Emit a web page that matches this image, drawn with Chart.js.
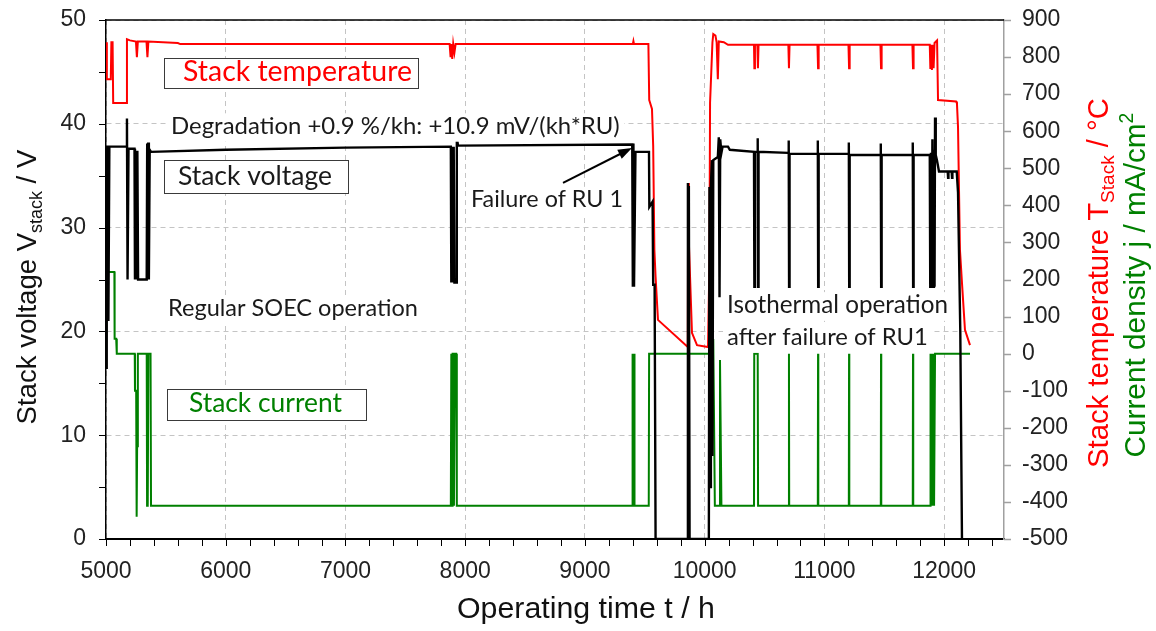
<!DOCTYPE html>
<html>
<head>
<meta charset="utf-8">
<script src="https://cdn.jsdelivr.net/npm/chart.js@4.4.0/dist/chart.umd.min.js"></script>
<style>
  html, body { margin: 0; padding: 0; background: #fff; }
  #wrap { width: 1156px; height: 631px; }
</style>
</head>
<body>
<div id="wrap"><canvas id="chart" width="1156" height="631"></canvas></div>
<script>
// values: operating time (h) against value
const tempTime = [5000,5006,5008,5040,5045,5055,5060,5170,5175,5200,5250,5258,5266,5338,5346,5354,5600,5620,7870,7878,7885,7892,7900,7910,7920,9400,9405,9410,9530,9537,9560,9570,9580,9590,9610,9859,9862,9868,9894,9936,10028,10040,10045,10065,10072,10090,10100,10110,10118,10160,10195,10412,10415,10420,10440,10445,10450,10699,10704,10709,10942,10947,10952,11201,11206,11211,11468,11473,11478,11735,11740,11745,11880,11885,11892,11898,11905,11912,11920,11941,11949,12100,12107,12116,12132,12149,12174,12216];
const tempValue = [840,840,740,740,840,840,676,676,848,845,842,800,842,842,800,842,838,835,835,800,835,795,835,812,835,835,843,835,835,684,660,560,280,207,91,18,460,300,56,23,18,250,676,840,862,858,840,740,842,840,833,833,770,833,833,770,833,833,770,833,833,770,833,833,770,833,833,770,833,833,770,833,833,768,833,765,833,770,838,845,684,680,675,611,280,191,64,23];

const voltTime = [5000,5004,5008,5016,5020,5028,5170,5175,5180,5188,5238,5242,5250,5256,5262,5268,5340,5344,5348,5352,5358,5365,5376,6000,7000,7880,7884,7890,7896,7904,7910,7925,7930,7940,9395,9400,9405,9410,9418,9422,9535,9538,9565,9570,9582,9590,9856,9860,9864,9868,9874,10035,10040,10045,10052,10060,10065,10072,10110,10118,10124,10130,10140,10150,10195,10210,10412,10415,10420,10440,10443,10446,10450,10699,10702,10705,10709,10942,10945,10948,10952,11201,11204,11207,11211,11468,11471,11474,11478,11735,11738,11741,11745,11880,11884,11890,11895,11902,11908,11915,11920,11924,11930,11940,11957,12030,12033,12036,12063,12066,12069,12105,12116,12135,12149];
const voltValue = [16.5,36,37.8,37.8,21,37.8,37.8,40.5,25,37.6,37.6,25,37.4,25,37.4,25,25,38.1,25,38.2,25,37.5,37.3,37.5,37.7,37.8,24.7,37.8,24.7,37.8,24.7,24.7,38.7,37.9,38.0,24.3,38.1,24.3,24.3,37.3,37.3,32,32.5,24.5,24.5,0,0,34.3,3,34,0,0,33.9,5,34,36.5,8,36.5,36.8,38.7,23.3,38.5,37.2,37.8,37.8,37.5,37.3,24.3,37.3,37.3,38.6,24.3,37.3,37.2,38.4,24.3,37.1,37.1,38.4,24.3,37.1,37.1,38.2,24.3,37.0,37.0,38.1,24.3,37.0,37.0,38.2,24.3,37.0,37.0,24.3,37.2,24.3,38.5,24.3,37.5,24.3,40.6,37,36.5,35.4,35.4,34.8,35.4,35.4,34.8,35.4,35.4,33.4,20,0];

const currTime = [5000,5008,5009,5070,5072,5085,5090,5240,5242,5252,5256,5260,5266,5340,5343,5347,5350,5354,5372,5376,7880,7884,7890,7895,7902,7906,7912,7925,7930,9395,9398,9403,9410,9414,9533,9536,10045,10065,10072,10085,10125,10128,10140,10412,10414,10443,10446,10702,10704,10706,10945,10947,10949,11204,11206,11208,11471,11473,11475,11738,11740,11742,11882,11885,11888,11893,11897,11902,11906,11912,11916,11922,11924,12216];
const currValue = [0,0,220,220,40,40,0,0,-100,-100,-440,-250,0,0,-410,0,-410,0,0,-410,-410,0,-410,0,0,-410,0,0,-410,-410,0,-410,0,-410,-410,0,0,37,37,-410,-410,-17,-410,-410,0,0,-410,-410,0,-410,-410,0,-410,-410,0,-410,-410,0,-410,-410,0,-410,-410,0,-410,0,-410,0,-410,0,-410,-410,0,0];

const timeTicks = [5000,6000,7000,8000,9000,10000,11000,12000];
const voltTicks = [0,10,20,30,40,50];
const rightTicks = [-500,-400,-300,-200,-100,0,100,200,300,400,500,600,700,800,900];

const pairs = (xs, ys) => xs.map((x, i) => ({ x: x, y: ys[i] }));

const tickFont = { family: '"Liberation Sans", Arial, sans-serif', size: 23 };
const textFont = 'Lato, "Open Sans", sans-serif';
const axisFont = '"Liberation Sans", Arial, sans-serif';

// notes on the plot, placed in data units (h, V); w = text width in px
const notes = [
  { text: 'Stack temperature', x: 5643, y: 44.12, w: 229, color: '#ff0000', box: [5484, 7606, 46.34, 43.45] },
  { text: 'Degradation +0.9 %/kh: +10.9 mV/(kh*RU)', x: 5543, y: 39.02, w: 449, color: '#1a1a1a' },
  { text: 'Stack voltage', x: 5601, y: 34.10, w: 154, color: '#1a1a1a', box: [5484, 7021, 36.51, 33.33] },
  { text: 'Stack current', x: 5693, y: 12.24, w: 153, color: '#008000', box: [5509, 7172, 14.45, 11.46] },
  { text: 'Regular SOEC operation', x: 5518, y: 21.48, w: 250, color: '#1a1a1a' },
  { text: 'Failure of RU 1', x: 8049, y: 31.98, w: 152, color: '#1a1a1a' },
  { text: 'Isothermal operation', x: 10187, y: 21.77, w: 221, color: '#1a1a1a' },
  { text: 'after failure of RU1', x: 10187, y: 18.69, w: 201, color: '#1a1a1a' }
];

function drawRich(ctx, parts, cx, cy, length, color, rotate) {
  const widthAt = size => parts.reduce((a, p) => {
    ctx.font = (p.s ? size * 0.65 : size) + 'px ' + axisFont;
    return a + ctx.measureText(p.t).width;
  }, 0);
  const size = 100 * length / widthAt(100);
  ctx.save();
  ctx.translate(cx, cy);
  if (rotate) ctx.rotate(-Math.PI / 2);
  ctx.fillStyle = color;
  ctx.textAlign = 'left';
  ctx.textBaseline = 'alphabetic';
  let x = -length / 2;
  parts.forEach(p => {
    ctx.font = (p.s ? size * 0.65 : size) + 'px ' + axisFont;
    const dy = p.s < 0 ? size * 0.22 : (p.s > 0 ? -size * 0.4 : 0);
    ctx.fillText(p.t, x, dy);
    x += ctx.measureText(p.t).width;
  });
  ctx.restore();
}

const extras = {
  id: 'extras',
  afterDatasetsDraw(chart) {
    const ctx = chart.ctx, xs = chart.scales.x, ys = chart.scales.y;
    ctx.save();
    notes.forEach(n => {
      ctx.font = '100px ' + textFont;
      const size = 100 * n.w / ctx.measureText(n.text).width;
      ctx.font = size + 'px ' + textFont;
      const left = xs.getPixelForValue(n.x), base = ys.getPixelForValue(n.y);
      ctx.fillStyle = '#fff';
      if (n.box) {
        const bx = xs.getPixelForValue(n.box[0]), bx2 = xs.getPixelForValue(n.box[1]);
        const by = ys.getPixelForValue(n.box[2]), by2 = ys.getPixelForValue(n.box[3]);
        ctx.fillRect(bx, by, bx2 - bx, by2 - by);
        ctx.strokeStyle = '#3a3a3a';
        ctx.lineWidth = 1;
        ctx.strokeRect(Math.round(bx) + 0.5, Math.round(by) + 0.5, Math.round(bx2 - bx), Math.round(by2 - by));
      } else {
        ctx.fillRect(left - 4, base - size * 0.78 - 2, n.w + 8, size * 1.02 + 4);
      }
      ctx.fillStyle = n.color;
      ctx.textAlign = 'left';
      ctx.textBaseline = 'alphabetic';
      ctx.fillText(n.text, left, base);
    });
    // arrow to the failure point
    const x1 = xs.getPixelForValue(8817), y1 = ys.getPixelForValue(34.3);
    const x2 = xs.getPixelForValue(9393), y2 = ys.getPixelForValue(37.67);
    const ang = Math.atan2(y2 - y1, x2 - x1);
    ctx.strokeStyle = '#000';
    ctx.fillStyle = '#000';
    ctx.lineWidth = 2;
    ctx.beginPath();
    ctx.moveTo(x1, y1);
    ctx.lineTo(x2 - 10 * Math.cos(ang), y2 - 10 * Math.sin(ang));
    ctx.stroke();
    ctx.beginPath();
    ctx.moveTo(x2, y2);
    ctx.lineTo(x2 - 14 * Math.cos(ang) + 5 * Math.sin(ang), y2 - 14 * Math.sin(ang) - 5 * Math.cos(ang));
    ctx.lineTo(x2 - 14 * Math.cos(ang) - 5 * Math.sin(ang), y2 - 14 * Math.sin(ang) + 5 * Math.cos(ang));
    ctx.closePath();
    ctx.fill();
    ctx.restore();
  },
  afterDraw(chart) {
    const ctx = chart.ctx, a = chart.chartArea;
    const xs = chart.scales.x, ys = chart.scales.y, yr = chart.scales.y1;
    ctx.save();
    // top frame line
    ctx.strokeStyle = '#000';
    ctx.lineWidth = 1.5;
    ctx.beginPath();
    ctx.moveTo(a.left, a.top);
    ctx.lineTo(a.right, a.top);
    ctx.stroke();
    // tick marks
    ctx.lineWidth = 1;
    ctx.beginPath();
    for (let t = 5000; t < 12500; t += 200) {
      const px = Math.round(xs.getPixelForValue(t)) + 0.5;
      ctx.moveTo(px, a.bottom);
      ctx.lineTo(px, a.bottom + 7);
    }
    for (let v = 0; v <= 50; v += 5) {
      const py = Math.round(ys.getPixelForValue(v)) + 0.5;
      ctx.moveTo(a.left - 7, py);
      ctx.lineTo(a.left, py);
    }
    ctx.stroke();
    ctx.strokeStyle = '#a0a0a0';
    ctx.lineWidth = 1.5;
    ctx.beginPath();
    rightTicks.forEach(v => {
      const py = Math.round(yr.getPixelForValue(v)) + 0.5;
      ctx.moveTo(a.right, py);
      ctx.lineTo(a.right + 7, py);
    });
    ctx.stroke();
    // axis titles
    drawRich(ctx, [{ t: 'Operating time t / h' }], 586, 618, 258, '#111', false);
    drawRich(ctx, [{ t: 'Stack voltage V' }, { t: 'stack', s: -1 }, { t: ' / V' }], 36, 287, 275, '#111', true);
    drawRich(ctx, [{ t: 'Stack temperature T' }, { t: 'Stack', s: -1 }, { t: ' / °C' }], 1108, 283, 370, '#ff0000', true);
    drawRich(ctx, [{ t: 'Current density j / mA/cm' }, { t: '2', s: 1 }], 1145, 285, 345, '#008000', true);
    ctx.restore();
  }
};

const gridDash = { color: '#c4c4c4', drawTicks: false, lineWidth: 1 };
const plainLabel = v => String(v);
// fixed axis sizes so the plot area sits where it does in the figure
const fitSize = (w, h) => s => {
  if (w) s.width = w;
  if (h) s.height = h;
  s.paddingTop = 0; s.paddingBottom = 0; s.paddingLeft = 0; s.paddingRight = 0;
};

new Chart(document.getElementById('chart').getContext('2d'), {
  type: 'line',
  data: {
    datasets: [
      { label: 'Stack voltage', data: pairs(voltTime, voltValue), yAxisID: 'y', borderColor: '#000', borderWidth: 2.4 },
      { label: 'Stack temperature', data: pairs(tempTime, tempValue), yAxisID: 'y1', borderColor: '#ff0000', borderWidth: 2 },
      { label: 'Stack current', data: pairs(currTime, currValue), yAxisID: 'y1', borderColor: '#008000', borderWidth: 2 }
    ]
  },
  options: {
    responsive: false,
    animation: false,
    devicePixelRatio: 1,
    layout: { padding: { top: 20, left: 0, right: 0, bottom: 0 } },
    elements: { point: { radius: 0 }, line: { tension: 0, fill: false } },
    plugins: { legend: { display: false }, tooltip: { enabled: false } },
    scales: {
      x: {
        type: 'linear', min: 5000, max: 12500,
        afterBuildTicks: s => { s.ticks = timeTicks.map(v => ({ value: v })); },
        afterFit: fitSize(0, 92),
        grid: gridDash,
        border: { color: '#000', width: 2, dash: [5, 4] },
        ticks: { font: tickFont, color: '#222', padding: 19, maxRotation: 0, callback: plainLabel }
      },
      y: {
        type: 'linear', position: 'left', min: 0, max: 50,
        afterBuildTicks: s => { s.ticks = voltTicks.map(v => ({ value: v })); },
        afterFit: fitSize(106, 0),
        grid: gridDash,
        border: { color: '#000', width: 1.5, dash: [5, 4] },
        ticks: { font: tickFont, color: '#222', padding: 20, callback: plainLabel }
      },
      y1: {
        type: 'linear', position: 'right', min: -500, max: 900,
        afterBuildTicks: s => { s.ticks = rightTicks.map(v => ({ value: v })); },
        afterFit: fitSize(152, 0),
        grid: { drawOnChartArea: false, drawTicks: false },
        border: { color: '#a0a0a0', width: 1.5 },
        ticks: { font: tickFont, color: '#222', padding: 18, callback: plainLabel }
      }
    }
  },
  plugins: [extras]
});
</script>
</body>
</html>
